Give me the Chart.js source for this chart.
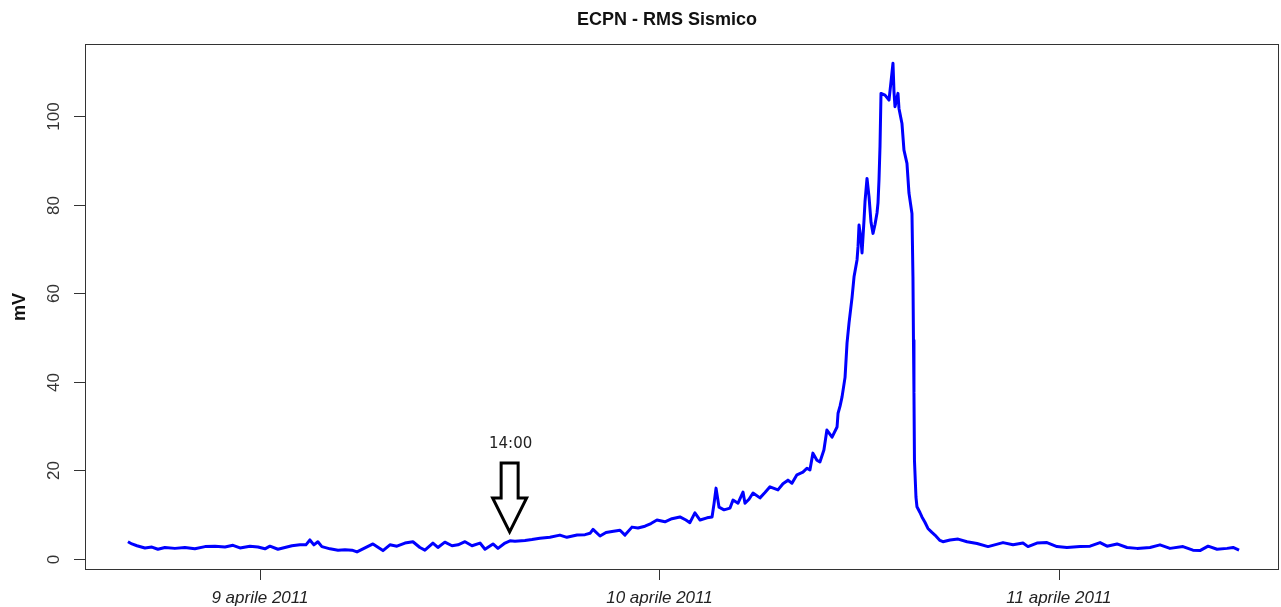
<!DOCTYPE html>
<html>
<head>
<meta charset="utf-8">
<script src="https://cdn.jsdelivr.net/npm/chart.js@4.4.0/dist/chart.umd.min.js"></script>
<style>
  body { margin: 0; background: #fff; }
</style>
</head>
<body>
<canvas id="grafico" width="1281" height="607"></canvas>
<script>
// ore dal 9 aprile 2011 00:00
const ore = [
  -7.93, -7.69, -7.39, -6.91, -6.49, -6.13, -5.71, -5.11, -4.51, -3.91,
  -3.30, -2.70, -2.10, -1.62, -1.20, -0.60, -0.12, 0.30, 0.60, 1.08,
  1.50, 1.92, 2.40, 2.76, 3.00, 3.24, 3.48, 3.72, 4.21, 4.69,
  5.11, 5.53, 5.83, 6.31, 6.79, 7.39, 7.81, 8.23, 8.71, 9.19,
  9.61, 9.91, 10.39, 10.69, 11.11, 11.54, 11.90, 12.32, 12.74, 13.22,
  13.52, 14.00, 14.30, 14.72, 15.02, 15.32, 15.92, 16.34, 16.82, 17.42,
  18.02, 18.44, 19.05, 19.53, 19.83, 20.01, 20.43, 20.79, 21.15, 21.63,
  21.93, 22.35, 22.71, 23.13, 23.49, 23.85, 24.33, 24.75, 25.23, 25.59,
  25.83, 26.13, 26.44, 26.86, 27.16, 27.28, 27.40, 27.58, 27.88, 28.24,
  28.42, 28.72, 29.02, 29.14, 29.38, 29.62, 30.04, 30.34, 30.64, 31.12,
  31.42, 31.72, 31.96, 32.26, 32.62, 32.86, 33.04, 33.22, 33.46, 33.64,
  33.88, 34.06, 34.37, 34.67, 34.73, 34.85, 34.97, 35.15, 35.27, 35.39,
  35.57, 35.69, 35.87, 35.93, 35.99, 36.11, 36.17, 36.29, 36.35, 36.47,
  36.59, 36.71, 36.83, 36.95, 37.07, 37.13, 37.19, 37.25, 37.31, 37.55,
  37.79, 37.91, 38.03, 38.09, 38.15, 38.33, 38.39, 38.57, 38.69, 38.87,
  38.99, 39.17, 39.23, 39.26, 39.29, 39.32, 39.41, 39.47, 39.65, 39.77,
  39.95, 40.13, 40.37, 40.55, 40.85, 41.03, 41.46, 41.94, 42.48, 43.08,
  43.74, 44.64, 45.24, 45.84, 46.14, 46.68, 47.28, 47.88, 48.48, 49.27,
  49.87, 50.47, 50.89, 51.49, 52.09, 52.69, 53.47, 54.07, 54.67, 55.45,
  56.05, 56.47, 56.96, 57.50, 58.10, 58.46, 58.82
];

// RMS in mV
const rms = [
  3.9, 3.4, 3.0, 2.5, 2.7, 2.2, 2.6, 2.4, 2.6, 2.3,
  2.8, 2.9, 2.7, 3.1, 2.5, 2.9, 2.7, 2.3, 2.9, 2.2,
  2.6, 3.0, 3.2, 3.2, 4.3, 3.2, 3.9, 2.8, 2.3, 2.0,
  2.1, 2.0, 1.6, 2.5, 3.4, 1.9, 3.2, 2.9, 3.6, 3.9,
  2.6, 2.0, 3.6, 2.6, 3.8, 3.0, 3.2, 3.9, 3.0, 3.6,
  2.2, 3.4, 2.4, 3.6, 4.1, 4.0, 4.2, 4.4, 4.7, 4.9,
  5.4, 4.9, 5.4, 5.5, 5.8, 6.7, 5.2, 6.0, 6.2, 6.5,
  5.4, 7.2, 7.0, 7.4, 8.0, 8.8, 8.4, 9.1, 9.5, 8.8,
  8.2, 10.4, 8.8, 9.3, 9.5, 12.5, 16.0, 11.7, 11.1, 11.5,
  13.3, 12.6, 15.1, 12.6, 13.5, 14.9, 13.8, 15.0, 16.3, 15.6,
  17.0, 17.8, 17.1, 19.0, 19.6, 20.5, 20.1, 23.9, 22.3, 21.9,
  24.6, 29.1, 27.5, 29.8, 32.9, 34.5, 36.6, 41.0, 48.8, 53.3,
  59.0, 63.7, 67.5, 70.5, 75.4, 72.0, 69.1, 76.5, 80.7, 85.9,
  81.8, 76.0, 73.5, 75.5, 78.1, 80.4, 85.6, 93.1, 105.1, 104.7,
  103.6, 107.7, 111.9, 105.5, 102.1, 105.1, 101.7, 98.3, 92.3, 89.3,
  82.6, 78.0, 63.7, 49.4, 37.5, 22.3, 14.0, 11.8, 10.5, 9.5,
  8.3, 6.9, 6.0, 5.4, 4.2, 3.9, 4.3, 4.5, 3.9, 3.5,
  2.8, 3.7, 3.2, 3.6, 2.8, 3.6, 3.7, 2.8, 2.6, 2.8,
  2.9, 3.7, 2.9, 3.4, 2.6, 2.4, 2.6, 3.2, 2.4, 2.8,
  2.0, 1.9, 2.9, 2.2, 2.4, 2.6, 2.0
];

const tickOre = [0, 24, 48];
const tickGiorni = ['9 aprile 2011', '10 aprile 2011', '11 aprile 2011'];
const tickMv = [0, 20, 40, 60, 80, 100];

// freccia "14:00" (punta in coordinate dati)
const frecciaOre = 15.0;
const frecciaMv = 6.1;
const frecciaTesto = '14:00';

const titolo = 'ECPN - RMS Sismico';
const etichettaY = 'mV';

const decorazioni = {
  id: 'decorazioni',
  afterDraw(chart) {
    const ctx = chart.ctx;
    const a = chart.chartArea;
    const sx = chart.scales.x;
    const sy = chart.scales.y;
    ctx.save();

    // cornice
    ctx.strokeStyle = '#333';
    ctx.lineWidth = 1;
    ctx.strokeRect(Math.round(a.left) + 0.5, Math.round(a.top) + 0.5,
      Math.round(a.right - a.left) - 1, Math.round(a.bottom - a.top) - 1);

    // tacche asse y + etichette ruotate
    ctx.fillStyle = '#333';
    ctx.font = '17px "Liberation Sans", Arial, sans-serif';
    ctx.textAlign = 'center';
    ctx.textBaseline = 'middle';
    tickMv.forEach(v => {
      const y = Math.round(sy.getPixelForValue(v)) + 0.5;
      ctx.beginPath();
      ctx.moveTo(a.left - 11, y);
      ctx.lineTo(a.left, y);
      ctx.stroke();
      ctx.save();
      ctx.translate(a.left - 31, y);
      ctx.rotate(-Math.PI / 2);
      ctx.fillText(String(v), 0, 0);
      ctx.restore();
    });

    // tacche asse x
    tickOre.forEach(h => {
      const x = Math.round(sx.getPixelForValue(h)) + 0.5;
      ctx.beginPath();
      ctx.moveTo(x, a.bottom);
      ctx.lineTo(x, a.bottom + 10);
      ctx.stroke();
    });

    // titolo asse y
    ctx.fillStyle = '#111';
    ctx.font = 'bold 18px "Liberation Sans", Arial, sans-serif';
    ctx.save();
    ctx.translate(20, (a.top + a.bottom) / 2);
    ctx.rotate(-Math.PI / 2);
    ctx.fillText(etichettaY, 0, 0);
    ctx.restore();

    // titolo
    ctx.fillText(titolo, 667, 20);

    // freccia
    const px = sx.getPixelForValue(frecciaOre);
    const py = sy.getPixelForValue(frecciaMv);
    ctx.strokeStyle = '#000';
    ctx.lineWidth = 3;
    ctx.lineJoin = 'miter';
    ctx.beginPath();
    ctx.moveTo(px - 8.5, py - 69);
    ctx.lineTo(px + 8.5, py - 69);
    ctx.lineTo(px + 8.5, py - 34);
    ctx.lineTo(px + 17, py - 34);
    ctx.lineTo(px, py);
    ctx.lineTo(px - 17, py - 34);
    ctx.lineTo(px - 8.5, py - 34);
    ctx.closePath();
    ctx.stroke();

    ctx.fillStyle = '#222';
    ctx.font = '15px "DejaVu Sans", sans-serif';
    ctx.fillText(frecciaTesto, px + 1, py - 88);

    ctx.restore();
  }
};

new Chart(document.getElementById('grafico'), {
  type: 'line',
  data: {
    datasets: [{
      data: ore.map((h, i) => ({ x: h, y: rms[i] })),
      borderColor: '#0000ff',
      borderWidth: 3,
      borderJoinStyle: 'round',
      pointRadius: 0,
      tension: 0,
      fill: false
    }]
  },
  options: {
    responsive: false,
    animation: false,
    devicePixelRatio: 1,
    layout: { padding: { top: 44, right: 2, left: 0, bottom: 0 } },
    plugins: {
      legend: { display: false },
      tooltip: { enabled: false },
      title: { display: false }
    },
    scales: {
      x: {
        type: 'linear',
        min: -10.51,
        max: 61.22,
        grid: { display: false },
        border: { display: false },
        afterBuildTicks: s => { s.ticks = tickOre.map(v => ({ value: v })); },
        afterFit: s => { s.height = 37; },
        ticks: {
          autoSkip: false,
          maxRotation: 0,
          padding: 10,
          color: '#222',
          font: { family: '"Liberation Sans", Arial, sans-serif', size: 17, style: 'italic' },
          callback: (v) => tickGiorni[tickOre.indexOf(v)]
        }
      },
      y: {
        min: -2.48,
        max: 116.25,
        grid: { display: false },
        border: { display: false },
        afterBuildTicks: s => { s.ticks = tickMv.map(v => ({ value: v })); },
        afterFit: s => { s.width = 85; },
        ticks: { display: false }
      }
    }
  },
  plugins: [decorazioni]
});
</script>
</body>
</html>
